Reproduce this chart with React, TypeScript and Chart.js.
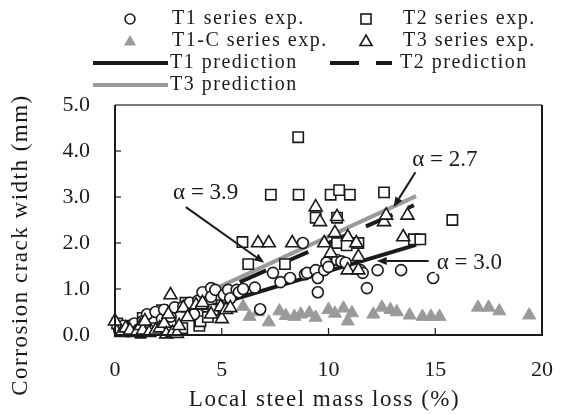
import React, { useEffect, useRef } from 'react';
import { Chart, registerables } from 'chart.js';

Chart.register(...registerables);

// ---------- data (x: local steel mass loss %, y: crack width mm) ----------
const t1X = [0.2, 0.4, 0.6, 0.9, 1.1, 1.3, 1.5, 1.6, 1.9, 2.2, 2.3, 2.6, 2.8, 3.2, 3.5, 3.7, 3.9, 4.1, 4.5, 4.5, 4.7, 5.0, 5.1, 5.3, 5.4, 5.7, 5.8, 6.0, 6.55, 6.8, 7.4, 7.75, 8.2, 8.8, 8.9, 9.0, 9.4, 9.5, 9.5, 9.8, 9.9, 10.0, 10.4, 10.6, 10.8, 11.5, 11.6, 11.8, 12.3, 13.4, 14.9];
const t1Y = [0.1, 0.2, 0.08, 0.25, 0.12, 0.3, 0.45, 0.1, 0.5, 0.35, 0.55, 0.4, 0.6, 0.62, 0.7, 0.45, 0.75, 0.93, 1.02, 0.83, 0.98, 0.6, 0.87, 0.98, 0.8, 0.98, 0.93, 1.0, 1.03, 0.56, 1.35, 1.15, 1.24, 2.0, 1.32, 1.35, 1.41, 1.24, 0.93, 1.41, 1.57, 1.48, 1.63, 1.6, 1.57, 1.41, 1.35, 1.02, 1.41, 1.41, 1.24];

const t2X = [0.1, 0.3, 0.8, 1.2, 1.3, 1.8, 2.2, 2.6, 3.15, 3.3, 3.55, 3.6, 3.95, 4.0, 4.35, 4.6, 5.0, 5.97, 6.24, 7.3, 7.96, 8.58, 8.6, 9.4, 10.1, 10.4, 10.4, 10.5, 10.85, 11.0, 11.4, 12.6, 14.0, 14.3, 15.8];
const t2Y = [0.25, 0.1, 0.2, 0.05, 0.37, 0.15, 0.54, 0.3, 0.15, 0.7, 0.65, 0.48, 0.2, 0.3, 0.39, 0.55, 0.65, 2.02, 1.54, 3.05, 1.54, 4.3, 3.05, 2.55, 3.05, 2.55, 2.0, 3.15, 1.95, 3.05, 2.0, 3.1, 2.08, 2.08, 2.5];

const t1cX = [6.0, 6.3, 6.7, 7.2, 7.7, 8.0, 8.4, 8.7, 9.1, 9.4, 10.0, 10.3, 10.7, 10.9, 11.1, 12.1, 12.5, 12.9, 13.2, 13.8, 14.4, 14.8, 15.2, 17.0, 17.5, 18.0, 19.4];
const t1cY = [0.62, 0.4, 0.5, 0.28, 0.52, 0.42, 0.4, 0.45, 0.48, 0.38, 0.55, 0.47, 0.58, 0.3, 0.48, 0.45, 0.6, 0.55, 0.5, 0.43, 0.4, 0.4, 0.4, 0.6, 0.6, 0.52, 0.43];

const t3X = [0.0, 0.3, 0.5, 0.7, 1.0, 1.2, 1.3, 1.4, 1.6, 1.9, 2.1, 2.3, 2.4, 2.5, 2.6, 2.7, 2.9, 3.0, 3.2, 3.4, 3.8, 4.05, 4.1, 4.5, 4.95, 5.0, 5.2, 5.4, 6.7, 7.2, 8.3, 9.4, 9.6, 9.8, 10.1, 10.3, 10.4, 10.9, 10.9, 11.3, 11.4, 11.4, 12.6, 12.7, 13.5, 13.7];
const t3Y = [0.3, 0.05, 0.15, 0.1, 0.05, 0.2, 0.1, 0.3, 0.05, 0.1, 0.15, 0.25, 0.02, 0.45, 0.87, 0.05, 0.03, 0.2, 0.59, 0.39, 0.65, 0.65, 0.7, 0.45, 0.61, 0.35, 0.55, 0.59, 2.0, 2.0, 2.0, 2.78, 2.46, 2.0, 1.78, 2.22, 2.57, 2.13, 1.41, 2.0, 1.7, 1.41, 2.46, 2.6, 2.13, 2.6];

// prediction lines (endpoints)
const t1PredX = [4.0, 14.1];
const t1PredY = [0.56, 1.96];
const t2PredX = [5.84, 14.0];
const t2PredY = [1.15, 2.82];
const t3PredX = [2.8, 14.1];
const t3PredY = [0.6, 3.02];

// annotations: label, text anchor (x, y), arrow tail, arrow head
const annLabels = ['α = 3.9', 'α = 2.7', 'α = 3.0'];
const annTextX = [4.25, 15.45, 16.6];
const annTextY = [3.09, 3.8, 1.57];
const annTailX = [3.32, 14.07, 14.69];
const annTailY = [2.78, 3.54, 1.61];
const annHeadX = [6.99, 13.05, 12.26];
const annHeadY = [1.57, 2.78, 1.61];

const xTicks = [0, 5, 10, 15, 20];
const yTicks = [0, 1, 2, 3, 4, 5];

const xTitle = 'Local steel mass loss (%)';
const yTitle = 'Corrosion crack width (mm)';

const FONT = '"Liberation Serif", "Times New Roman", serif';
const GRAY = '#9a9a9a';
const DARK = '#1a1a1a';

const zip = (xs: number[], ys: number[]) => xs.map((x, i) => ({ x, y: ys[i] }));

function drawTri(ctx: CanvasRenderingContext2D, x: number, y: number, r: number, fill: string | null, stroke: string | null) {
  ctx.beginPath();
  ctx.moveTo(x, y - r);
  ctx.lineTo(x + r * 0.866, y + r * 0.5);
  ctx.lineTo(x - r * 0.866, y + r * 0.5);
  ctx.closePath();
  if (fill) { ctx.fillStyle = fill; ctx.fill(); }
  if (stroke) { ctx.strokeStyle = stroke; ctx.lineWidth = 1.6; ctx.stroke(); }
}

const framePlugin = {
  id: 'frame',
  afterDatasetsDraw(chart: any) {
    const { ctx, chartArea: a, scales } = chart;
    ctx.save();
    ctx.lineCap = 'butt';
    ctx.strokeStyle = DARK;
    ctx.lineWidth = 1.2;
    yTicks.forEach((v) => {
      const py = scales.y.getPixelForValue(v);
      ctx.beginPath();
      ctx.moveTo(a.left, py);
      ctx.lineTo(a.left + 6, py);
      ctx.stroke();
    });
    xTicks.forEach((v) => {
      const px = scales.x.getPixelForValue(v);
      ctx.beginPath();
      ctx.moveTo(px, a.bottom);
      ctx.lineTo(px, a.bottom - 7);
      ctx.stroke();
    });
    ctx.lineWidth = 2;
    ctx.strokeStyle = '#7a7a7a';
    ctx.beginPath();
    ctx.moveTo(a.left, a.top);
    ctx.lineTo(a.right, a.top);
    ctx.stroke();
    ctx.strokeStyle = DARK;
    ctx.beginPath();
    ctx.moveTo(a.right, a.top);
    ctx.lineTo(a.right, a.bottom);
    ctx.lineTo(a.left, a.bottom);
    ctx.lineTo(a.left, a.top);
    ctx.stroke();
    ctx.restore();
  },
};

const overlayPlugin = {
  id: 'overlay',
  afterDraw(chart: any) {
    const { ctx, chartArea: a, scales } = chart;
    const sx = scales.x, sy = scales.y;
    ctx.save();
    ctx.fillStyle = DARK;
    (ctx as any).letterSpacing = '1.5px';
    // axis titles
    ctx.font = `23px ${FONT}`;
    ctx.textAlign = 'center';
    ctx.textBaseline = 'middle';
    ctx.fillText(xTitle, (a.left + a.right) / 2 - 4, 400);
    ctx.save();
    ctx.translate(21, 245);
    ctx.rotate(-Math.PI / 2);
    ctx.fillText(yTitle, 0, 0);
    ctx.restore();

    // legend
    ctx.font = `20px ${FONT}`;
    ctx.textAlign = 'left';
    const rows = [19, 41, 63, 85];
    const c1 = 130, c2 = 366;
    ctx.beginPath();
    ctx.arc(c1, rows[0], 5, 0, Math.PI * 2);
    ctx.fillStyle = '#fff'; ctx.fill();
    ctx.strokeStyle = DARK; ctx.lineWidth = 1.6; ctx.stroke();
    ctx.fillStyle = '#fff';
    ctx.fillRect(c2 - 5, rows[0] - 5, 10, 10);
    ctx.strokeRect(c2 - 5, rows[0] - 5, 10, 10);
    drawTri(ctx, c1, rows[1] + 1, 7, GRAY, null);
    drawTri(ctx, c2, rows[1] + 1, 7, '#fff', DARK);
    ctx.lineWidth = 4;
    ctx.strokeStyle = DARK;
    ctx.beginPath(); ctx.moveTo(93, rows[2]); ctx.lineTo(168, rows[2]); ctx.stroke();
    ctx.setLineDash([29, 17]);
    ctx.beginPath(); ctx.moveTo(330, rows[2]); ctx.lineTo(392, rows[2]); ctx.stroke();
    ctx.setLineDash([]);
    ctx.strokeStyle = GRAY;
    ctx.beginPath(); ctx.moveTo(93, rows[3]); ctx.lineTo(168, rows[3]); ctx.stroke();
    ctx.fillStyle = DARK;
    ctx.fillText('T1 series exp.', 172, rows[0]);
    ctx.fillText('T2 series exp.', 403, rows[0]);
    ctx.fillText('T1-C series exp.', 172, rows[1]);
    ctx.fillText('T3 series exp.', 403, rows[1]);
    ctx.fillText('T1 prediction', 170, rows[2]);
    ctx.fillText('T2 prediction', 400, rows[2]);
    ctx.fillText('T3 prediction', 170, rows[3]);

    // annotations
    ctx.font = `23px ${FONT}`;
    (ctx as any).letterSpacing = '0px';
    annLabels.forEach((lab, i) => {
      const tx = sx.getPixelForValue(annTextX[i]);
      const ty = sy.getPixelForValue(annTextY[i]);
      const x0 = sx.getPixelForValue(annTailX[i]);
      const y0 = sy.getPixelForValue(annTailY[i]);
      const x1 = sx.getPixelForValue(annHeadX[i]);
      const y1 = sy.getPixelForValue(annHeadY[i]);
      ctx.strokeStyle = DARK;
      ctx.fillStyle = DARK;
      ctx.lineWidth = 2;
      const ang = Math.atan2(y1 - y0, x1 - x0);
      const hl = 10, hw = 4;
      const bx = x1 - hl * Math.cos(ang), by = y1 - hl * Math.sin(ang);
      ctx.beginPath(); ctx.moveTo(x0, y0); ctx.lineTo(bx, by); ctx.stroke();
      ctx.beginPath();
      ctx.moveTo(x1, y1);
      ctx.lineTo(bx + hw * Math.sin(ang), by - hw * Math.cos(ang));
      ctx.lineTo(bx - hw * Math.sin(ang), by + hw * Math.cos(ang));
      ctx.closePath();
      ctx.fill();
      const w = ctx.measureText(lab).width;
      ctx.fillStyle = '#fff';
      ctx.fillRect(tx - w / 2 - 2, ty - 11, w + 4, 22);
      ctx.fillStyle = DARK;
      ctx.textAlign = 'center';
      ctx.fillText(lab, tx, ty);
    });
    ctx.restore();
  },
};

export default function App() {
  const ref = useRef<HTMLCanvasElement | null>(null);
  useEffect(() => {
    if (!ref.current) return;
    const lineBase = { type: 'line' as const, showLine: true, pointRadius: 0, borderWidth: 4, tension: 0, fill: false, clip: false as any };
    const chart = new Chart(ref.current, {
      type: 'scatter',
      data: {
        datasets: [
          { label: 'T3 series exp.', data: zip(t3X, t3Y), pointStyle: 'triangle', radius: 7.5, backgroundColor: '#fff', borderColor: DARK, borderWidth: 1.6, order: 1, clip: false as any },
          { label: 'T1 series exp.', data: zip(t1X, t1Y), pointStyle: 'circle', radius: 5.5, backgroundColor: '#fff', borderColor: DARK, borderWidth: 1.6, order: 2, clip: false as any },
          { label: 'T2 series exp.', data: zip(t2X, t2Y), pointStyle: 'rect', radius: 7.3, backgroundColor: '#fff', borderColor: DARK, borderWidth: 1.6, order: 3, clip: false as any },
          { label: 'T1-C series exp.', data: zip(t1cX, t1cY), pointStyle: 'triangle', radius: 7.5, backgroundColor: GRAY, borderColor: GRAY, borderWidth: 1, order: 4, clip: false as any },
          { ...lineBase, label: 'T1 prediction', data: zip(t1PredX, t1PredY), borderColor: DARK, order: 5 },
          { ...lineBase, label: 'T2 prediction', data: zip(t2PredX, t2PredY), borderColor: DARK, borderDash: [29, 17], order: 6 },
          { ...lineBase, label: 'T3 prediction', data: zip(t3PredX, t3PredY), borderColor: GRAY, order: 7 },
        ] as any,
      },
      options: {
        responsive: false,
        animation: false,
        devicePixelRatio: 1,
        layout: { padding: { top: 105, right: 8, left: 0, bottom: 0 } },
        plugins: { legend: { display: false }, tooltip: { enabled: false } },
        scales: {
          x: {
            type: 'linear', min: 0, max: 20,
            grid: { display: false, drawTicks: false },
            border: { display: false },
            afterBuildTicks: (s: any) => { s.ticks = xTicks.map((v) => ({ value: v })); },
            afterFit: (s: any) => { s.height = 79; },
            ticks: { padding: 22, color: DARK, font: { family: FONT, size: 22 }, maxRotation: 0 },
          },
          y: {
            type: 'linear', min: 0, max: 5,
            grid: { display: false, drawTicks: false },
            border: { display: false },
            afterBuildTicks: (s: any) => { s.ticks = yTicks.map((v) => ({ value: v })); },
            afterFit: (s: any) => { s.width = 115; },
            ticks: { padding: 25, color: DARK, font: { family: FONT, size: 22 }, callback: (v: any) => Number(v).toFixed(1) },
          },
        },
      } as any,
      plugins: [framePlugin, overlayPlugin],
    });
    return () => chart.destroy();
  }, []);
  return (
    <div style={{ position: 'absolute', left: 0, top: 0, width: 575, height: 414, background: '#fff' }}>
      <canvas ref={ref} width={575} height={414} />
    </div>
  );
}
